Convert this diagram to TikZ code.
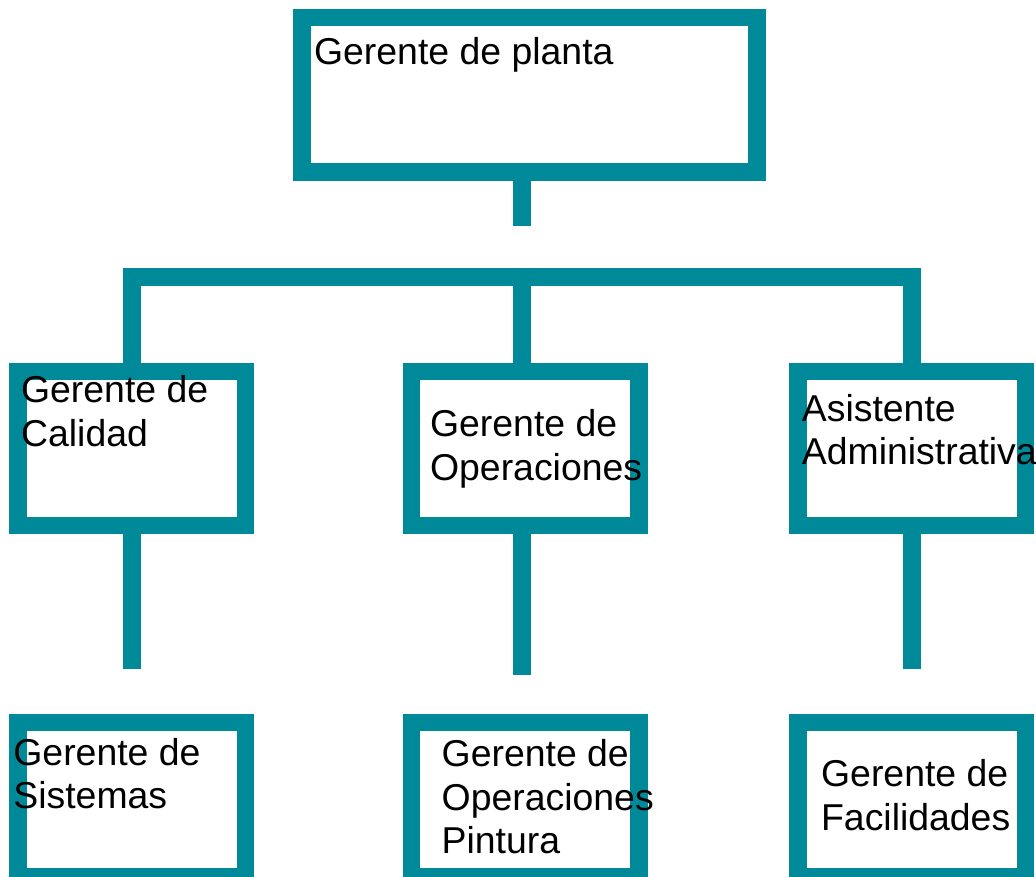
\documentclass[tikz,border=0pt]{standalone}
\usepackage{fontspec}
\setmainfont{Liberation Sans}
\usepackage{xcolor}
\usepackage{tikz}
\definecolor{orgteal}{RGB}{0,138,153}

\begin{document}
\begin{tikzpicture}[x=1pt, y=-1pt,
		Box/.style={draw=orgteal, fill=white, line width=17.5pt, minimum width=227.5pt, minimum height=154pt, inner sep=0pt},
		Name/.style={anchor=base west, align=left, inner sep=0pt, font=\fontsize{37.4}{43.4}\selectfont},
		Link/.style={draw=orgteal, line width=17.5pt}]
		\useasboundingbox (0,0) rectangle (1036,877);
		\clip (0,0) rectangle (1036,877);
		
		\node[Box, minimum width=455pt, minimum height=154.5pt] (planta) at (529.5,95) {};
		\node[Box] (calidad) at (131.8,448.5) {};
		\node[Box] (operaciones) at (525,448.5) {};
		\node[Box] (asistente) at (911.8,448.5) {};
		\node[Box] (sistemas) at (131.8,799.5) {};
		\node[Box] (pintura) at (525,799.5) {};
		\node[Box] (facilidades) at (911.8,799.5) {};
		
		\coordinate (hub) at (522,225.7);
		\coordinate (bar) at (522,277);
		\coordinate (calidadEnd) at (131.8,669.3);
		\coordinate (operacionesEnd) at (522,675);
		\coordinate (asistenteEnd) at (911.8,669.3);
		
		\draw[Link] (hub |- planta.south) -- (hub);
		\draw[Link] (calidad.north) |- (bar) -| (asistente.north);
		\draw[Link] (bar) -- (bar |- operaciones.north);
		\draw[Link] (calidad.south) -- (calidadEnd);
		\draw[Link] (bar |- operaciones.south) -- (operacionesEnd);
		\draw[Link] (asistente.south) -- (asistenteEnd);
		
		% text nodes sit on the baseline of their last line
		\node[Name] (plantaText) at (313.9,65) {Gerente de planta};
		\node[Name] (calidadText) at (20.9,446.1) {Gerente de\\Calidad};
		\node[Name] (operacionesText) at (429.9,480.1) {Gerente de\\Operaciones};
		\node[Name] (asistenteText) at (801.7,464.4) {Asistente\\Administrativa};
		\node[Name] (sistemasText) at (13.2,808.4) {Gerente de\\Sistemas};
		\node[Name] (pinturaText) at (441.5,853.5) {Gerente de\\Operaciones\\Pintura};
		\node[Name] (facilidadesText) at (820.9,830.1) {Gerente de\\Facilidades};
\end{tikzpicture}
\end{document}
